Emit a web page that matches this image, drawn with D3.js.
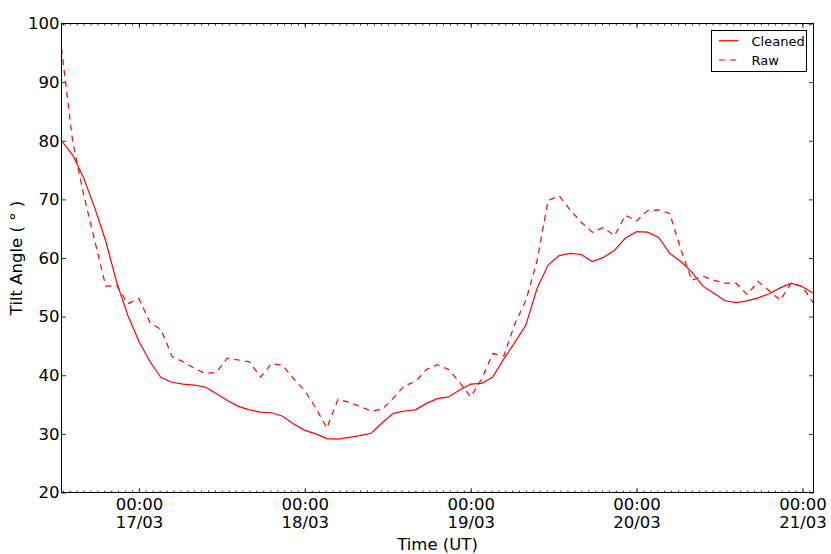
<!DOCTYPE html>
<html><head><meta charset="utf-8">
<script src="https://cdn.jsdelivr.net/npm/d3@7"></script>
<style>
body{margin:0;background:#fff}
svg{display:block}
text{font-family:"DejaVu Sans",sans-serif;fill:#000}
</style>
</head><body>
<svg id="c" width="831" height="554"></svg>
<script>
// ---- data ----
const times = [
 "2015-03-16T12:48","2015-03-16T14:24","2015-03-16T16:00","2015-03-16T17:36","2015-03-16T19:12","2015-03-16T20:48","2015-03-16T22:24",
 "2015-03-17T00:00","2015-03-17T01:36","2015-03-17T03:12","2015-03-17T04:48","2015-03-17T06:24","2015-03-17T08:00","2015-03-17T09:36",
 "2015-03-17T11:12","2015-03-17T12:48","2015-03-17T14:24","2015-03-17T16:00","2015-03-17T17:36","2015-03-17T19:12","2015-03-17T20:48","2015-03-17T22:24",
 "2015-03-18T00:00","2015-03-18T01:36","2015-03-18T03:12","2015-03-18T04:48","2015-03-18T06:24","2015-03-18T08:00","2015-03-18T09:36",
 "2015-03-18T11:12","2015-03-18T12:48","2015-03-18T14:24","2015-03-18T16:00","2015-03-18T17:36","2015-03-18T19:12","2015-03-18T20:48","2015-03-18T22:24",
 "2015-03-19T00:00","2015-03-19T01:36","2015-03-19T03:12","2015-03-19T04:48","2015-03-19T06:24","2015-03-19T08:00","2015-03-19T09:36",
 "2015-03-19T11:12","2015-03-19T12:48","2015-03-19T14:24","2015-03-19T16:00","2015-03-19T17:36","2015-03-19T19:12","2015-03-19T20:48","2015-03-19T22:24",
 "2015-03-20T00:00","2015-03-20T01:36","2015-03-20T03:12","2015-03-20T04:48","2015-03-20T06:24","2015-03-20T08:00","2015-03-20T09:36",
 "2015-03-20T11:12","2015-03-20T12:48","2015-03-20T14:24","2015-03-20T16:00","2015-03-20T17:36","2015-03-20T19:12","2015-03-20T20:48","2015-03-20T22:24",
 "2015-03-21T00:00","2015-03-21T01:36"
];
const cleaned = [
 80.0,77.6,73.7,68.6,62.9,55.8,50.2,
 45.8,42.3,39.6,38.8,38.5,38.3,38.0,
 36.9,35.7,34.7,34.1,33.7,33.6,33.0,31.7,
 30.6,30.0,29.2,29.1,29.4,29.7,30.1,
 31.9,33.5,33.9,34.1,35.2,36.0,36.3,37.5,
 38.5,38.6,39.7,42.8,45.6,48.6,54.8,
 58.8,60.4,60.8,60.6,59.4,60.1,61.3,63.4,
 64.5,64.4,63.5,60.8,59.4,57.6,55.2,
 54.0,52.7,52.4,52.7,53.2,53.9,54.9,55.7,
 55.1,54.0
];
const raw = [
 95.8,80.0,70.8,63.0,55.2,55.3,52.2,
 53.1,49.0,47.8,43.2,42.3,41.2,40.3,
 40.5,42.9,42.6,42.3,39.7,42.0,41.7,39.4,
 37.4,34.4,31.0,35.9,35.4,34.7,33.9,
 34.2,36.1,38.2,38.9,41.0,41.8,41.0,38.8,
 36.3,39.4,43.7,43.3,48.8,52.8,59.5,
 69.8,70.6,68.2,66.1,64.4,65.2,63.8,67.3,
 66.3,68.1,68.2,67.6,61.5,56.2,56.9,
 56.2,55.7,55.7,53.8,56.0,54.4,52.8,55.8,
 55.1,52.3
];
const yTicks = [20,30,40,50,60,70,80,90,100];
const seriesNames = ["Cleaned","Raw"];
const yLabel = "Tilt Angle ( \u00B0 )";
const xLabel = "Time (UT)";

// ---- layout ----
const L=61.5, R=813.5, T=23.5, B=492.5;
const svg = d3.select("#c");
const parse = d3.utcParse("%Y-%m-%dT%H:%M");
const dates = times.map(parse);
const x = d3.scaleUtc().domain(d3.extent(dates)).range([L,R]);
const y = d3.scaleLinear().domain([20,100]).range([B,T]);

const dayTicks = d3.utcDay.range(d3.utcDay.ceil(x.domain()[0]), x.domain()[1]);
const hourTicks = d3.utcHour.range(d3.utcHour.ceil(x.domain()[0]), x.domain()[1]);

// minor ticks bottom/top
svg.append("g").attr("transform",`translate(0,${B})`)
  .call(d3.axisBottom(x).tickValues(hourTicks).tickSize(-2).tickSizeOuter(0).tickFormat(""))
  .call(g=>g.select(".domain").remove());
svg.append("g").attr("transform",`translate(0,${T})`)
  .call(d3.axisTop(x).tickValues(hourTicks).tickSize(-2).tickSizeOuter(0).tickFormat(""))
  .call(g=>g.select(".domain").remove());
// major x ticks
const fH = d3.utcFormat("%H:%M"), fD = d3.utcFormat("%d/%m");
const gx = svg.append("g").attr("transform",`translate(0,${B})`)
  .call(d3.axisBottom(x).tickValues(dayTicks).tickSize(-4.5).tickSizeOuter(0).tickFormat(""))
  .call(g=>g.select(".domain").remove());
gx.selectAll(".tick").each(function(d){
  const t = d3.select(this).append("text").attr("text-anchor","middle")
    .style("font-size","16.5px").attr("fill","#000");
  t.append("tspan").attr("x",0).attr("y",17.2).text(fH(d));
  t.append("tspan").attr("x",0).attr("y",35.8).text(fD(d));
});
svg.append("g").attr("transform",`translate(0,${T})`)
  .call(d3.axisTop(x).tickValues(dayTicks).tickSize(-4.5).tickSizeOuter(0).tickFormat(""))
  .call(g=>g.select(".domain").remove());
// y ticks
svg.append("g").attr("transform",`translate(${L},0)`)
  .call(d3.axisLeft(y).tickValues(yTicks).tickSize(-4.5).tickSizeOuter(0).tickPadding(2))
  .call(g=>g.select(".domain").remove())
  .call(g=>g.selectAll("text").style("font-size","16.5px").attr("fill","#000"));
svg.append("g").attr("transform",`translate(${R},0)`)
  .call(d3.axisRight(y).tickValues(yTicks).tickSize(-4.5).tickSizeOuter(0).tickFormat(""))
  .call(g=>g.select(".domain").remove());
svg.selectAll(".tick line").attr("stroke","#000").attr("stroke-width",0.8);

// lines
const mk = vals => d3.line().x((d,i)=>x(dates[i])).y(d=>y(d))(vals);
const plot = svg.append("g");
plot.append("path").attr("d",mk(cleaned)).attr("fill","none").attr("stroke","#ff0000").attr("stroke-width",1.2);
plot.append("path").attr("d",mk(raw)).attr("fill","none").attr("stroke","#ff0000").attr("stroke-width",1.2).attr("stroke-dasharray","6,5");

// frame
svg.append("rect").attr("x",L).attr("y",T).attr("width",R-L).attr("height",B-T)
  .attr("fill","none").attr("stroke","#000").attr("stroke-width",1);

// axis labels
svg.append("text").attr("x",(L+R)/2).attr("y",549.5).attr("text-anchor","middle")
  .style("font-size","16.5px").text(xLabel);
svg.append("text").attr("transform",`translate(21.5,${(T+B)/2}) rotate(-90)`).attr("text-anchor","middle")
  .style("font-size","16.5px").text(yLabel);

// legend
const lg = svg.append("g");
lg.append("rect").attr("x",711.5).attr("y",30.5).attr("width",95).attr("height",41)
  .attr("fill","#fff").attr("stroke","#000").attr("stroke-width",1);
seriesNames.forEach((n,i)=>{
  const yy = [40.7,60][i];
  lg.append("line").attr("x1",719).attr("x2",738.5).attr("y1",yy).attr("y2",yy)
    .attr("stroke","#ff0000").attr("stroke-width",1.2).attr("stroke-dasharray", i? "6,5" : null);
  lg.append("text").attr("x",751.5).attr("y",yy+4.8).style("font-size","13px").text(n);
});
</script>
</body></html>
